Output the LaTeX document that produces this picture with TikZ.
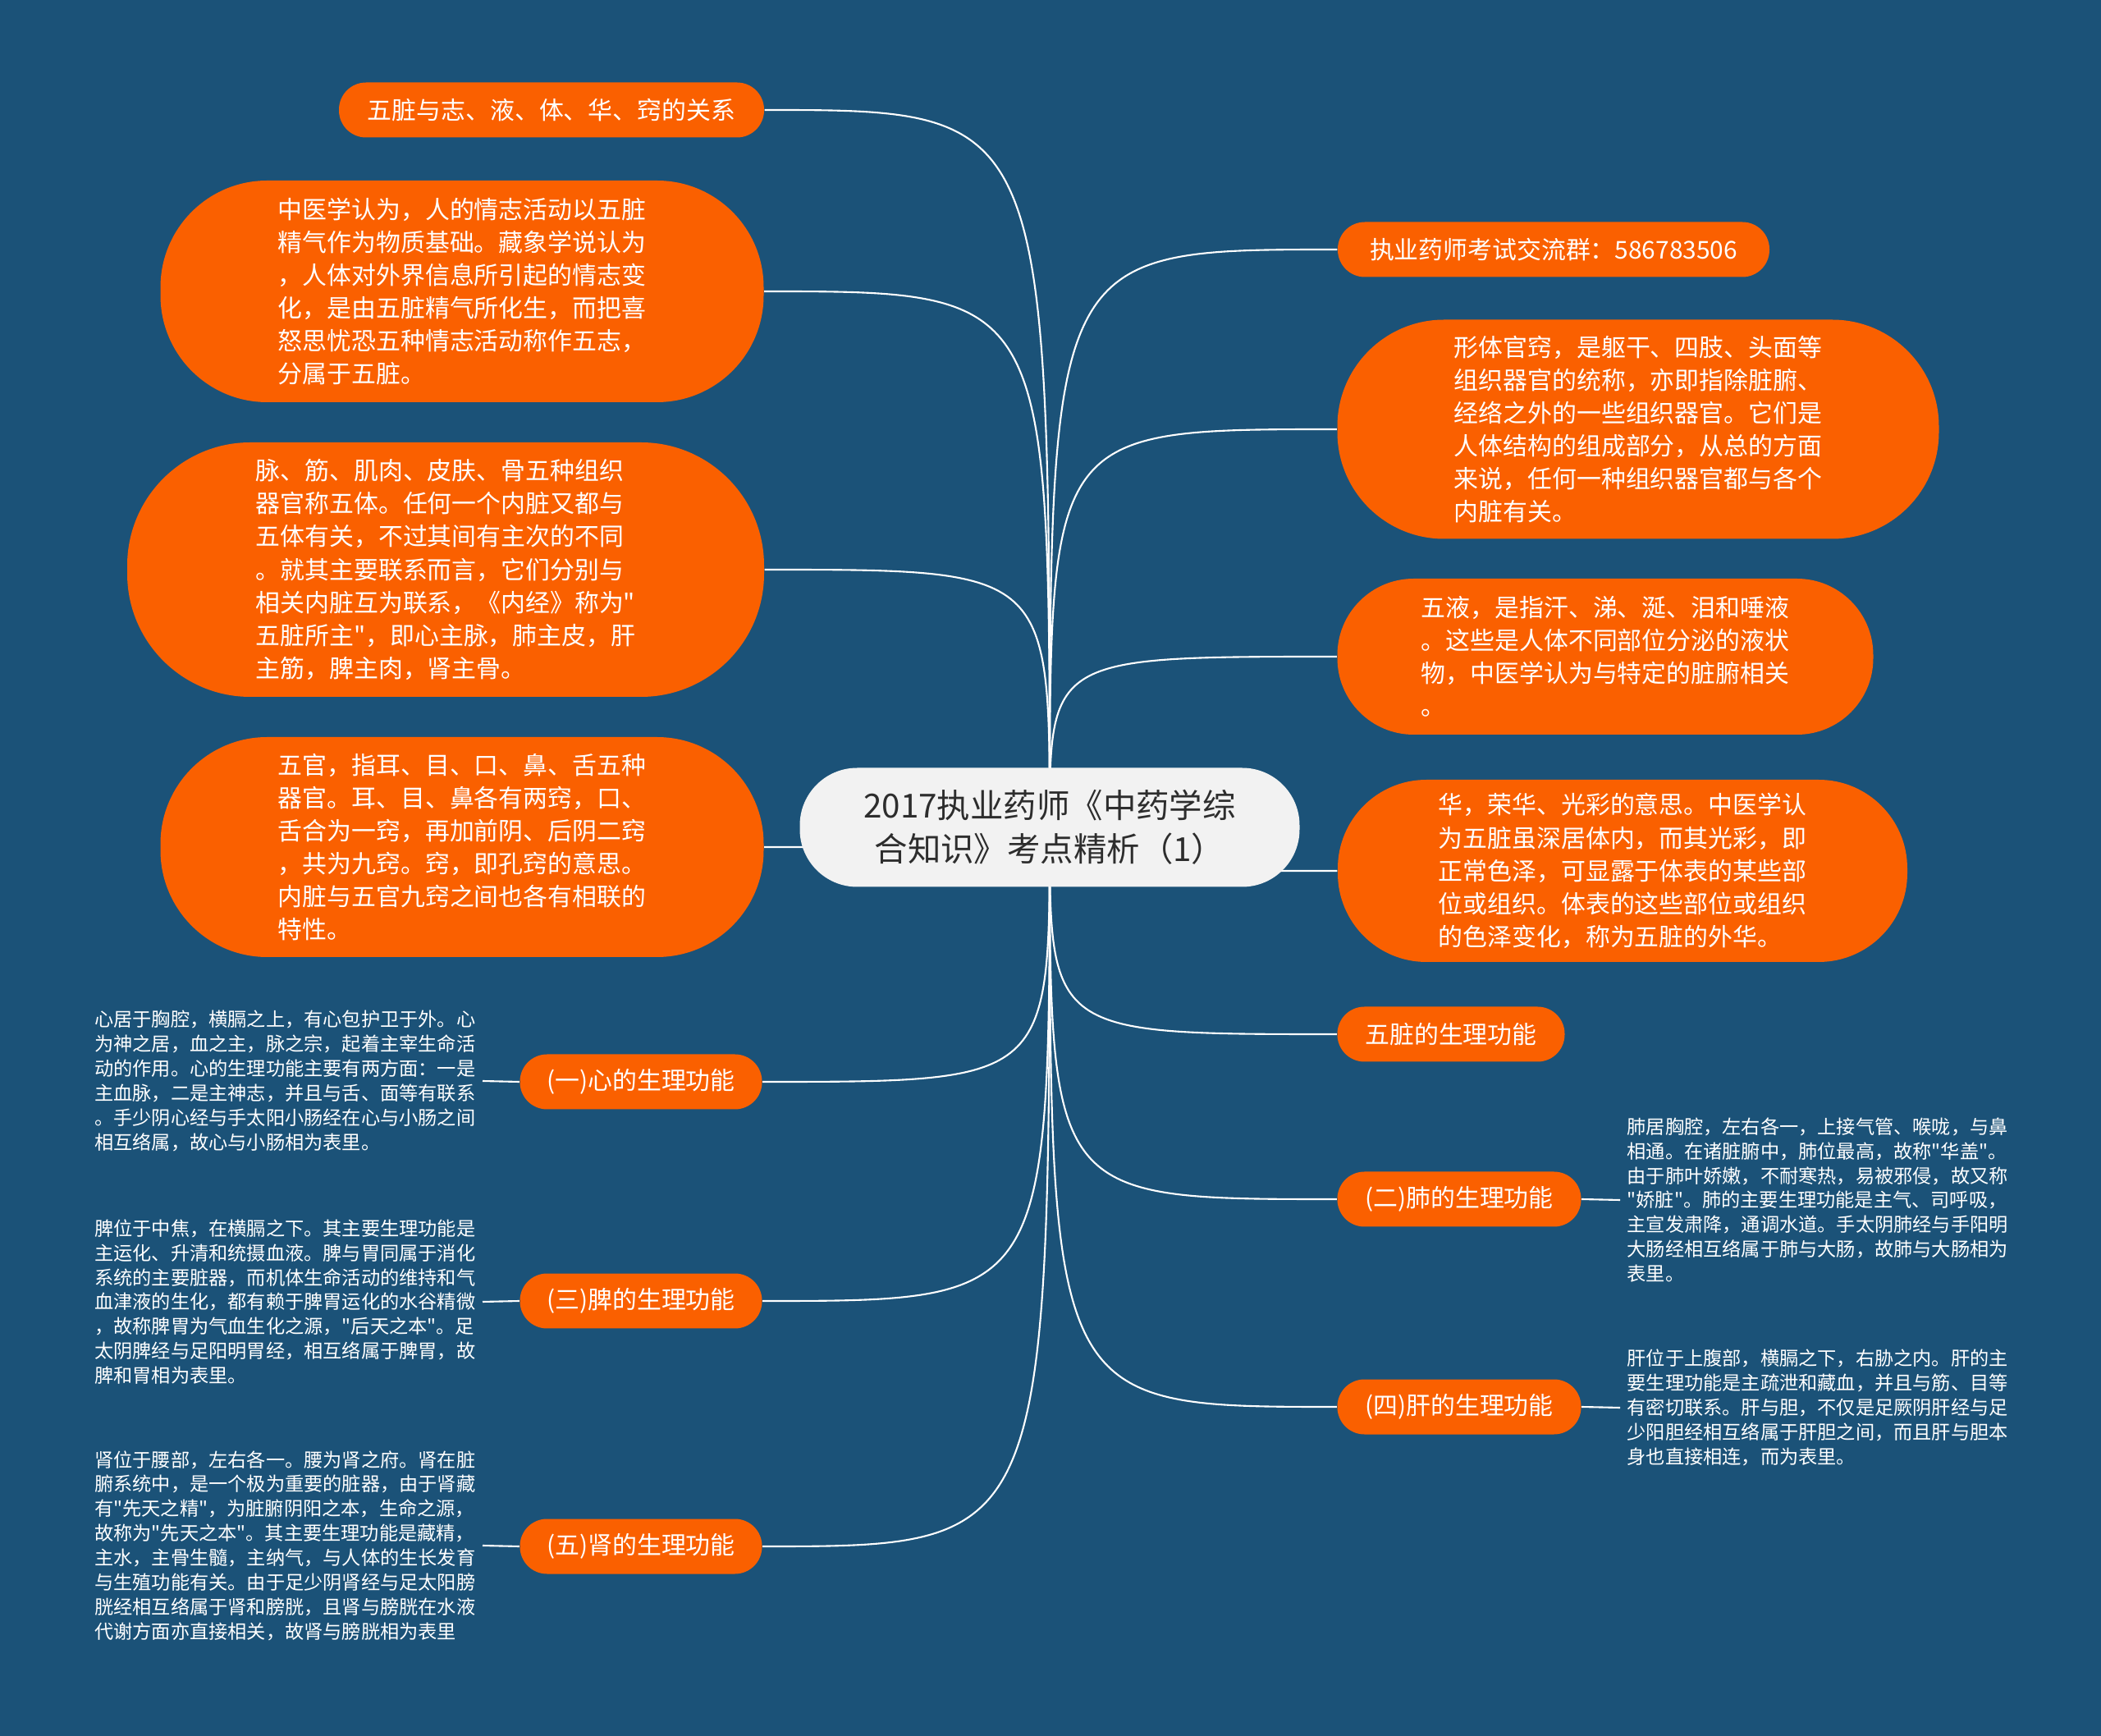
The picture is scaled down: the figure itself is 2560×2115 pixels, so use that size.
\documentclass[tikz,border=0pt]{standalone}
\usepackage{fontspec}
\newfontfamily\cjk{Noto Sans CJK SC}
\definecolor{bgblue}{RGB}{27,82,120}
\definecolor{mmorange}{RGB}{250,96,0}
\definecolor{rootgray}{RGB}{242,242,242}
\definecolor{roottext}{RGB}{45,45,45}
\pgfdeclarelayer{bglayer}
\pgfdeclarelayer{linklayer}
\pgfsetlayers{bglayer,linklayer,main}

\begin{document}
\begin{tikzpicture}[x=0.1mm, y=-0.1mm,
    rootbox/.style={fill=rootgray, text=roottext, rounded corners=7mm, align=center, font=\cjk\fontsize{11.5pt}{15pt}\selectfont, minimum width=60.9mm, minimum height=14.5mm},
    pill/.style={fill=mmorange, text=white, rounded corners=3.3mm, font=\cjk\fontsize{8.5pt}{11.4pt}\selectfont, minimum height=6.7mm, inner xsep=0pt},
    bigbox/.style={fill=mmorange, text=white, align=left, font=\cjk\fontsize{8.5pt}{11.4pt}\selectfont},
    note/.style={text=white, align=left, inner sep=0.8mm, font=\cjk\fontsize{6.6pt}{8.5pt}\selectfont},
    branch/.style={draw=white, line width=0.6pt}]
    \begin{pgfonlayer}{bglayer}
        \fill[bgblue] (0,0) rectangle (2560,2115);
    \end{pgfonlayer}

    \node[rootbox] (root) at (1279,1008) {2017执业药师《中药学综\\合知识》考点精析（1）};

    \node[pill, minimum width=51.8mm] (rel) at (672,134) {五脏与志、液、体、华、窍的关系};
    \node[bigbox, minimum width=73.5mm, minimum height=27mm, rounded corners=13mm] (zhi) at (563,355) {中医学认为，人的情志活动以五脏\\
        精气作为物质基础。藏象学说认为\\
        ，人体对外界信息所引起的情志变\\
        化，是由五脏精气所化生，而把喜\\
        怒思忧恐五种情志活动称作五志，\\
        分属于五脏。};
    \node[bigbox, minimum width=77.6mm, minimum height=31mm, rounded corners=15mm] (ti) at (543,694) {脉、筋、肌肉、皮肤、骨五种组织\\
        器官称五体。任何一个内脏又都与\\
        五体有关，不过其间有主次的不同\\
        。就其主要联系而言，它们分别与\\
        相关内脏互为联系，《内经》称为"\\
        五脏所主"，即心主脉，肺主皮，肝\\
        主筋，脾主肉，肾主骨。};
    \node[bigbox, minimum width=73.5mm, minimum height=26.8mm, rounded corners=13mm] (qiao) at (563,1032) {五官，指耳、目、口、鼻、舌五种\\
        器官。耳、目、鼻各有两窍，口、\\
        舌合为一窍，再加前阴、后阴二窍\\
        ，共为九窍。窍，即孔窍的意思。\\
        内脏与五官九窍之间也各有相联的\\
        特性。};
    \node[pill, minimum width=29.5mm] (xin) at (781,1318) {(一)心的生理功能};
    \node[pill, minimum width=29.5mm] (pi) at (781,1585) {(三)脾的生理功能};
    \node[pill, minimum width=29.5mm] (shen) at (781,1884) {(五)肾的生理功能};

    \node[note, anchor=east] (xintxt) at (588,1317) {心居于胸腔，横膈之上，有心包护卫于外。心\\
        为神之居，血之主，脉之宗，起着主宰生命活\\
        动的作用。心的生理功能主要有两方面：一是\\
        主血脉，二是主神志，并且与舌、面等有联系\\
        。手少阴心经与手太阳小肠经在心与小肠之间\\
        相互络属，故心与小肠相为表里。};
    \node[note, anchor=east] (pitxt) at (588,1586) {脾位于中焦，在横膈之下。其主要生理功能是\\
        主运化、升清和统摄血液。脾与胃同属于消化\\
        系统的主要脏器，而机体生命活动的维持和气\\
        血津液的生化，都有赖于脾胃运化的水谷精微\\
        ，故称脾胃为气血生化之源，"后天之本"。足\\
        太阴脾经与足阳明胃经，相互络属于脾胃，故\\
        脾和胃相为表里。};
    \node[note, anchor=east] (shentxt) at (588,1883) {肾位于腰部，左右各一。腰为肾之府。肾在脏\\
        腑系统中，是一个极为重要的脏器，由于肾藏\\
        有"先天之精"，为脏腑阴阳之本，生命之源，\\
        故称为"先天之本"。其主要生理功能是藏精，\\
        主水，主骨生髓，主纳气，与人体的生长发育\\
        与生殖功能有关。由于足少阴肾经与足太阳膀\\
        胱经相互络属于肾和膀胱，且肾与膀胱在水液\\
        代谢方面亦直接相关，故肾与膀胱相为表里};

    \node[pill, minimum width=52.6mm] (qun) at (1893,304) {执业药师考试交流群：586783506};
    \node[bigbox, minimum width=73.3mm, minimum height=26.7mm, rounded corners=13mm] (xing) at (1996,523) {形体官窍，是躯干、四肢、头面等\\
        组织器官的统称，亦即指除脏腑、\\
        经络之外的一些组织器官。它们是\\
        人体结构的组成部分，从总的方面\\
        来说，任何一种组织器官都与各个\\
        内脏有关。};
    \node[bigbox, minimum width=65.3mm, minimum height=19mm, rounded corners=9.3mm] (ye) at (1956,800) {五液，是指汗、涕、涎、泪和唾液\\
        。这些是人体不同部位分泌的液状\\
        物，中医学认为与特定的脏腑相关\\
        。};
    \node[bigbox, minimum width=69.4mm, minimum height=22.2mm, rounded corners=10.8mm] (hua) at (1977,1061) {华，荣华、光彩的意思。中医学认\\
        为五脏虽深居体内，而其光彩，即\\
        正常色泽，可显露于体表的某些部\\
        位或组织。体表的这些部位或组织\\
        的色泽变化，称为五脏的外华。};
    \node[pill, minimum width=27.7mm] (func) at (1768,1260) {五脏的生理功能};
    \node[pill, minimum width=29.7mm] (fei) at (1778,1461) {(二)肺的生理功能};
    \node[pill, minimum width=29.7mm] (gan) at (1778,1714) {(四)肝的生理功能};

    \node[note, anchor=west] (feitxt) at (1974,1462) {肺居胸腔，左右各一，上接气管、喉咙，与鼻\\
        相通。在诸脏腑中，肺位最高，故称"华盖"。\\
        由于肺叶娇嫩，不耐寒热，易被邪侵，故又称\\
        "娇脏"。肺的主要生理功能是主气、司呼吸，\\
        主宣发肃降，通调水道。手太阴肺经与手阳明\\
        大肠经相互络属于肺与大肠，故肺与大肠相为\\
        表里。};
    \node[note, anchor=west] (gantxt) at (1974,1715) {肝位于上腹部，横膈之下，右胁之内。肝的主\\
        要生理功能是主疏泄和藏血，并且与筋、目等\\
        有密切联系。肝与胆，不仅是足厥阴肝经与足\\
        少阳胆经相互络属于肝胆之间，而且肝与胆本\\
        身也直接相连，而为表里。};

    \begin{pgfonlayer}{linklayer}
        \foreach \n in {rel,zhi,ti,qiao,xin,pi,shen}
            \draw[branch] (root.center) .. controls (root.center |- \n.east) .. (\n.east);
        \foreach \n in {qun,xing,ye,hua,func,fei,gan}
            \draw[branch] (root.center) .. controls (root.center |- \n.west) .. (\n.west);
        \draw[branch] (xin.west) -- (xintxt.east);
        \draw[branch] (pi.west) -- (pitxt.east);
        \draw[branch] (shen.west) -- (shentxt.east);
        \draw[branch] (fei.east) -- (feitxt.west);
        \draw[branch] (gan.east) -- (gantxt.west);
    \end{pgfonlayer}
\end{tikzpicture}
\end{document}
